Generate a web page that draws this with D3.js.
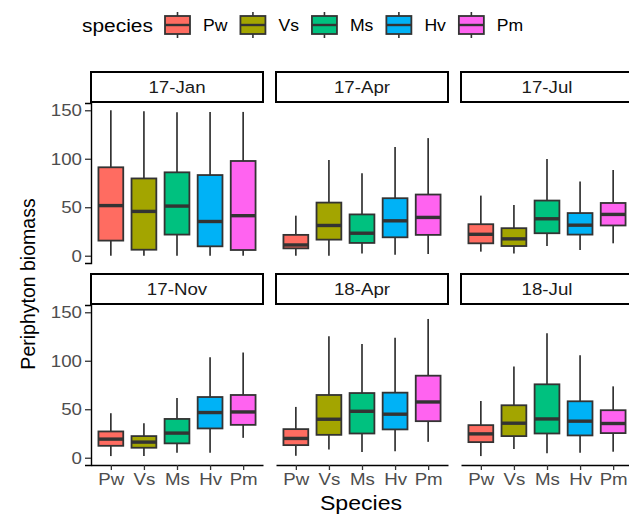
<!DOCTYPE html>
<html>
<head>
<meta charset="utf-8">
<script src="https://cdn.jsdelivr.net/npm/d3@7"></script>
<style>
  html, body { margin: 0; padding: 0; background: #fff; overflow: hidden; }
  svg { display: block; font-family: "Liberation Sans", Arial, sans-serif; }
</style>
</head>
<body>
<svg id="chart" width="629" height="516"></svg>
<script>
// facets and species
var facets  = ['17-Jan', '17-Apr', '17-Jul', '17-Nov', '18-Apr', '18-Jul'];
var species = ['Pw', 'Vs', 'Ms', 'Hv', 'Pm'];
var colours = ['#FF6C61', '#A3A500', '#00C17F', '#00B2F6', '#FF63F0'];
var yTicks  = [0, 50, 100, 150];

// box stats per facet (rows) and species (columns)
var lowWhisker = [
  [0, 0, 0, 0, 0],
  [0, 0, 2.4, 1, 1.8],
  [4.2, 2.4, 10, 5.9, 12.8],
  [1.7, 1.7, 5.1, 5.1, 20.5],
  [2, 8.6, 5.8, 6.6, 16.4],
  [1.7, 8.9, 4.5, 5.1, 6.2]
];
var lowerQuartile = [
  [15.6, 6.2, 21.8, 9.7, 5.9],
  [7.6, 16.6, 13.2, 19, 21.5],
  [12.8, 10, 23.2, 21.8, 31.2],
  [12.3, 10.3, 14.8, 30.2, 33.9],
  [13, 23.6, 25, 29.2, 37.7],
  [16.1, 22.3, 25, 23, 25.4]
];
var median = [
  [51.7, 45.7, 51.2, 35.3, 41.3],
  [11.1, 31.2, 23.2, 36, 39.5],
  [22.1, 17.4, 38.1, 31.5, 42.6],
  [19.2, 16.1, 25.4, 46.6, 47.2],
  [19.9, 39.7, 47.9, 44.9, 57.5],
  [24.6, 35.6, 40, 37.7, 35.3]
];
var upperQuartile = [
  [91.2, 79.7, 86, 83.2, 97.7],
  [21.5, 54.8, 42.6, 59.3, 63.1],
  [32.5, 28.4, 56.9, 44, 54.4],
  [27.1, 22.3, 40, 62.6, 64.7],
  [29.5, 64.7, 66.7, 67.1, 84.6],
  [33.6, 54.1, 75.7, 58.2, 49]
];
var highWhisker = [
  [150, 149, 148, 148.3, 148.3],
  [41.3, 98.8, 85, 112, 121.3],
  [62, 52.3, 99.8, 76.6, 88.4],
  [45.9, 35.6, 61.6, 103.7, 108.5],
  [52.4, 125.3, 117.4, 123.6, 143.1],
  [58.5, 94.1, 128.3, 105.7, 73.6]
];

var svg = d3.select('#chart');
var sx = 1.1; // the picture's text is a bit wide

var panelW = 172, panelH = 160, colGap = 13, stripH = 30;
var left0 = 91;
var rowTops = [103, 305];

function panelX(col) { return left0 + col * (panelW + colGap); }

var lo = d3.min(lowWhisker, function(r) { return d3.min(r); });
var hi = d3.max(highWhisker, function(r) { return d3.max(r); });
var pad = (hi - lo) * 0.05;

// ggplot style: discrete expansion 0.6 on each side, box width 0.75
var x = d3.scalePoint().domain(species).range([0, panelW]).padding(0.6);
var boxW = x.step() * 0.75;

var y = d3.scaleLinear().domain([lo - pad, hi + pad]).range([panelH, 0]);

function wideText(sel) {
  sel.each(function() {
    var t = d3.select(this);
    var tx = +t.attr('x') || 0;
    t.attr('x', tx / sx).attr('transform', 'scale(' + sx + ',1)');
  });
}

facets.forEach(function(f, i) {
  var col = i % 3, row = Math.floor(i / 3);
  var g = svg.append('g')
    .attr('transform', 'translate(' + panelX(col) + ',' + rowTops[row] + ')');

  // strip
  g.append('rect')
    .attr('x', 0).attr('y', -stripH - 1)
    .attr('width', panelW).attr('height', stripH)
    .attr('fill', '#fff').attr('stroke', '#000').attr('stroke-width', 2);
  g.append('text')
    .attr('x', panelW / 2).attr('y', -stripH / 2 + 5)
    .attr('text-anchor', 'middle')
    .attr('font-size', 17).attr('fill', '#1a1a1a')
    .text(f)
    .call(wideText);

  // boxes
  species.forEach(function(s, j) {
    var cx = x(s);
    var bg = g.append('g');
    bg.append('line')
      .attr('x1', cx).attr('x2', cx)
      .attr('y1', y(highWhisker[i][j])).attr('y2', y(lowWhisker[i][j]))
      .attr('stroke', '#333').attr('stroke-width', 1.7);
    bg.append('rect')
      .attr('x', cx - boxW / 2).attr('width', boxW)
      .attr('y', y(upperQuartile[i][j]))
      .attr('height', y(lowerQuartile[i][j]) - y(upperQuartile[i][j]))
      .attr('fill', colours[j]).attr('stroke', '#333').attr('stroke-width', 1.8);
    bg.append('line')
      .attr('x1', cx - boxW / 2).attr('x2', cx + boxW / 2)
      .attr('y1', y(median[i][j])).attr('y2', y(median[i][j]))
      .attr('stroke', '#333').attr('stroke-width', 3.4);
  });

  // y axis on left column
  if (col === 0) {
    var ya = g.append('g')
      .call(d3.axisLeft(y).tickValues(yTicks).tickSize(6).tickPadding(3));
    ya.select('.domain').attr('stroke', '#000').attr('stroke-width', 1.4);
    ya.selectAll('.tick line').attr('stroke', '#333').attr('stroke-width', 1.3);
    ya.selectAll('.tick text').attr('font-size', 17).attr('fill', '#4D4D4D')
      .attr('font-family', null).call(wideText);
  }
  // x axis on bottom row
  if (row === 1) {
    var xa = g.append('g')
      .attr('transform', 'translate(0,' + panelH + ')')
      .call(d3.axisBottom(x).tickSize(5).tickPadding(3).tickSizeOuter(0));
    xa.select('.domain').attr('stroke', '#000').attr('stroke-width', 1.4);
    xa.selectAll('.tick line').attr('stroke', '#333').attr('stroke-width', 1.3);
    xa.selectAll('.tick text').attr('font-size', 17).attr('fill', '#4D4D4D')
      .attr('font-family', null).call(wideText);
  }
});

// axis titles
svg.append('text')
  .attr('x', 361).attr('y', 510)
  .attr('text-anchor', 'middle').attr('font-size', 21).attr('fill', '#000')
  .text('Species')
  .call(wideText);

svg.append('text')
  .attr('transform', 'translate(35,' + (rowTops[0] + rowTops[1] + panelH) / 2 + ') rotate(-90)')
  .attr('text-anchor', 'middle').attr('font-size', 19.5).attr('fill', '#000')
  .text('Periphyton biomass');

// legend
var leg = svg.append('g').attr('transform', 'translate(0,25)');
leg.append('text')
  .attr('x', 82).attr('y', 7)
  .attr('font-size', 19).attr('fill', '#000')
  .text('species')
  .call(wideText);

var kx = 165, keyW = 25, keyH = 18;
species.forEach(function(s, j) {
  var k = leg.append('g').attr('transform', 'translate(' + kx + ',0)');
  k.append('line')
    .attr('x1', keyW / 2).attr('x2', keyW / 2)
    .attr('y1', -keyH / 2 - 4).attr('y2', keyH / 2 + 4)
    .attr('stroke', '#333').attr('stroke-width', 1.6);
  k.append('rect')
    .attr('x', 0).attr('y', -keyH / 2).attr('width', keyW).attr('height', keyH)
    .attr('fill', colours[j]).attr('stroke', '#333').attr('stroke-width', 1.8);
  k.append('line')
    .attr('x1', 0).attr('x2', keyW).attr('y1', 0).attr('y2', 0)
    .attr('stroke', '#333').attr('stroke-width', 2.4);
  var t = leg.append('text')
    .attr('x', kx + keyW + 13).attr('y', 6)
    .attr('font-size', 16).attr('fill', '#000')
    .text(s)
    .call(wideText);
  kx += keyW + 13 + t.node().getComputedTextLength() * sx + 13;
});
</script>
</body>
</html>
